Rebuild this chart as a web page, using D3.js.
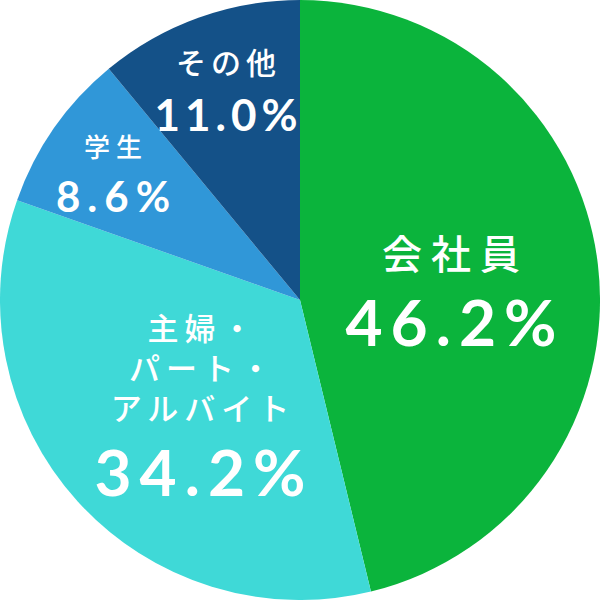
<!DOCTYPE html>
<html><head><meta charset="utf-8">
<script src="https://cdn.jsdelivr.net/npm/d3@7"></script>
<style>html,body{margin:0;padding:0;background:#fff;}</style>
</head><body>
<svg id="c" width="600" height="600"></svg>
<script>
const categories = ["会社員", "主婦・パート・アルバイト", "学生", "その他"];
const values = [46.2, 34.2, 8.6, 11.0];
const valueLabels = ["46.2%", "34.2%", "8.6%", "11.0%"];
const colors = ["#0bb43c", "#3fd9d7", "#3097d8", "#145188"];
const labelLines = [["会社員"], ["主婦・", "パート・", "アルバイト"], ["学生"], ["その他"]];

const svg = d3.select("#c");
const g = svg.append("g").attr("transform", "translate(300,300)");
const pie = d3.pie().sort(null).value(d => d)(values);
const arc = d3.arc().innerRadius(0).outerRadius(300);
g.selectAll("path").data(pie).join("path")
  .attr("d", arc).attr("fill", (d, i) => colors[i]);

// label layout: [cx, first line baseline, line height, catSize, catSpacing, valBaseline, valSize, valSpacing]
const layout = [
  [451, 269, 0, 40, 9, 346, 64, 8],
  [200, 340, 40, 31, 6, 496, 64, 8],
  [113, 157, 0, 26, 6, 212, 42, 7],
  [226, 74, 0, 30, 5, 131, 44, 5]
];
const jp = "'Noto Sans CJK JP', sans-serif";
const num = "Lato, 'Open Sans', sans-serif";
layout.forEach((L, i) => {
  const [cx, y0, lh, cs, csp, vy, vs, vsp] = L;
  const t = g.append("text").attr("text-anchor", "middle").attr("fill", "#fff")
    .style("font-family", jp).style("font-weight", 500)
    .style("font-size", cs + "px").style("letter-spacing", csp + "px");
  labelLines[i].forEach((s, k) => {
    t.append("tspan").attr("x", cx - 300 + csp / 2).attr("y", y0 + k * lh - 300).text(s);
  });
  g.append("text").attr("x", cx - 300 + vsp / 2).attr("y", vy - 300)
    .attr("text-anchor", "middle").attr("fill", "#fff")
    .style("font-family", num).style("font-weight", 700)
    .style("font-size", vs + "px").style("letter-spacing", vsp + "px").text(valueLabels[i]);
});
</script>
</body></html>
